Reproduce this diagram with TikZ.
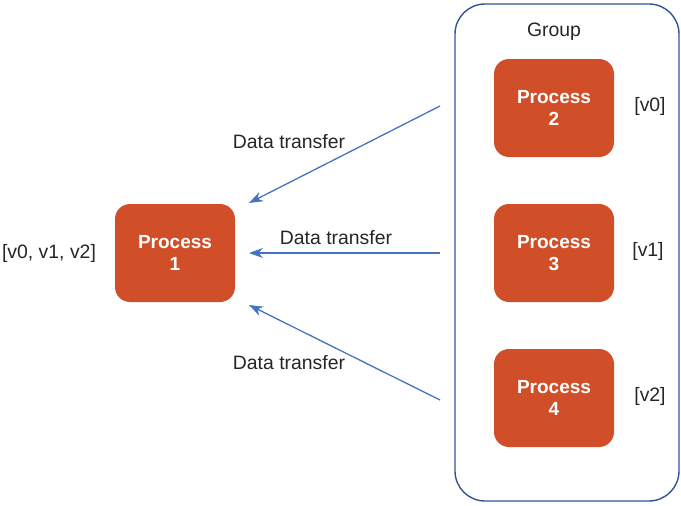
\documentclass[tikz,border=0pt]{standalone}
\usepackage{fontspec}
\setmainfont{Liberation Sans}
\usetikzlibrary{arrows.meta}
\definecolor{procfill}{HTML}{D04F28}
\definecolor{arrowblue}{HTML}{4472C4}
\definecolor{groupblue}{HTML}{2F5597}
\tikzset{
  proc/.style={fill=procfill, draw=none, rounded corners=15, minimum width=120, minimum height=98,
    text=white, font=\fontsize{19}{22}\selectfont\bfseries, align=center, inner sep=0},
  lbl/.style={font=\fontsize{19.4}{22}\selectfont, text=black!85, inner sep=0},
  flow/.style={draw=arrowblue, line width=1.3, -{Stealth[length=14,width=10]}},
  grp/.style={draw=groupblue, line width=1.4, rounded corners=30}
}
\begin{document}
\begin{tikzpicture}[x=1pt,y=-1pt]
\useasboundingbox (0,0) rectangle (681,506);
\draw[grp] (455,4) rectangle (679,501);
\node[lbl] (glabel) at (554,32) {Group};
\node[proc] (p1) at (175,253) {Process\\1};
\node[proc] (p2) at (554,108) {Process\\2};
\node[proc] (p3) at (554,253) {Process\\3};
\node[proc] (p4) at (554,398) {Process\\4};
\node[lbl] (v012) at (49,253) {[v0, v1, v2]};
\node[lbl] (v0) at (650,106) {[v0]};
\node[lbl] (v1) at (648,251) {[v1]};
\node[lbl] (v2) at (650,396) {[v2]};
\coordinate (s1) at (440,106);
\coordinate (s2) at (440,253);
\coordinate (s3) at (440,400);
\coordinate (e1) at (249,203);
\coordinate (e2) at (249,253);
\coordinate (e3) at (249,305);
\draw[flow] (s1) -- (e1);
\draw[flow] (s2) -- (e2);
\draw[flow] (s3) -- (e3);
\node[lbl] (d1) at (289,142) {Data transfer};
\node[lbl] (d2) at (336,238) {Data transfer};
\node[lbl] (d3) at (289,363) {Data transfer};
\end{tikzpicture}
\end{document}
